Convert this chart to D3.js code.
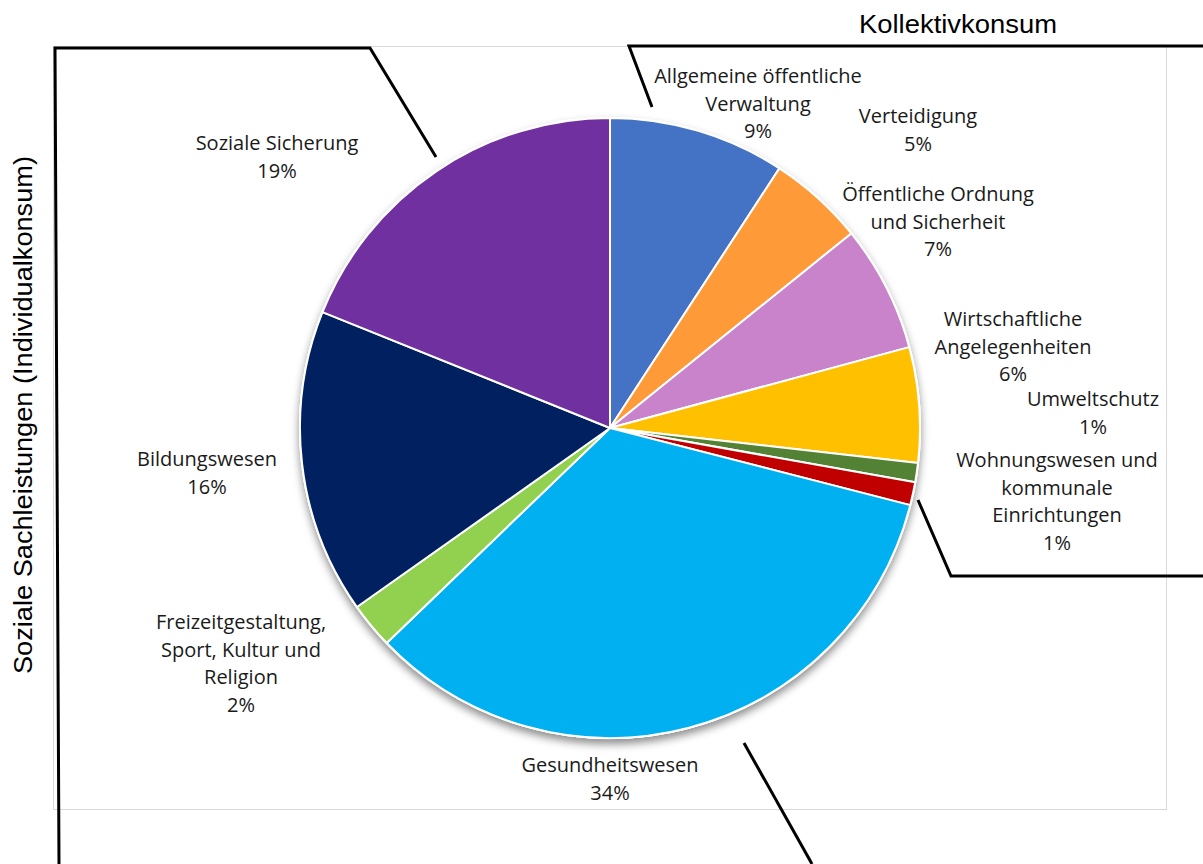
<!DOCTYPE html>
<html>
<head>
<meta charset="utf-8">
<script src="https://cdn.jsdelivr.net/npm/d3@7"></script>
<style>
  body { margin: 0; background: #fff; }
  svg { display: block; }
  .lbl { font-family: "Open Sans", Lato, sans-serif; font-size: 20px; fill: #1a1a1a; }
  .ttl { font-family: "Liberation Sans", Arial, sans-serif; font-size: 25px; fill: #000; }
</style>
</head>
<body>
<div id="main"></div>
<script>
// slice names (one entry per line of the label)
const categories = [
  ['Allgemeine öffentliche', 'Verwaltung'],
  ['Verteidigung'],
  ['Öffentliche Ordnung', 'und Sicherheit'],
  ['Wirtschaftliche', 'Angelegenheiten'],
  ['Umweltschutz'],
  ['Wohnungswesen und', 'kommunale', 'Einrichtungen'],
  ['Gesundheitswesen'],
  ['Freizeitgestaltung,', 'Sport, Kultur und', 'Religion'],
  ['Bildungswesen'],
  ['Soziale Sicherung']
];
// share of spending, percent
const shares = [9.2, 5.0, 6.6, 6.0, 1.0, 1.2, 33.8, 2.4, 15.9, 18.9];
const colors = ['#4472C4', '#FF9A38', '#C983CB', '#FFC000', '#548235',
  '#C00000', '#00B0F0', '#92D050', '#002060', '#7030A0'];

// label anchor (centre x, first line y) for each slice
const labelPos = [
  [758, 76], [918, 116], [938, 194], [1013, 319], [1093, 399],
  [1057, 460], [610, 765], [241, 622], [207, 459], [277, 143]
];

function main() {
  const W = 1203, H = 864;
  const cx = 610, cy = 428, radius = 310;
  const lineH = 27.7;

  const svg = d3.select('#main').append('svg')
    .attr('width', W).attr('height', H);

  const defs = svg.append('defs');
  const shadow = defs.append('filter').attr('id', 'shadow')
    .attr('x', '-10%').attr('y', '-10%').attr('width', '120%').attr('height', '125%');
  shadow.append('feDropShadow')
    .attr('dx', 0).attr('dy', 5).attr('stdDeviation', 4)
    .attr('flood-color', '#000').attr('flood-opacity', 0.45);

  // plot-area frame
  svg.append('rect')
    .attr('x', 53.5).attr('y', 46.5).attr('width', 1113).attr('height', 763)
    .attr('fill', 'none').attr('stroke', '#d9d9d9').attr('stroke-width', 1);

  const pie = d3.pie().sort(null).value(d => d);
  const arc = d3.arc().innerRadius(0).outerRadius(radius);
  const arcs = pie(shares);

  const g = svg.append('g').attr('transform', `translate(${cx},${cy})`);
  // white disc carrying the shadow
  g.append('circle').attr('r', radius + 1).attr('fill', '#fff').attr('filter', 'url(#shadow)');
  g.selectAll('path.slice')
    .data(arcs)
    .enter()
    .append('path')
    .attr('class', 'slice')
    .attr('d', arc)
    .attr('fill', (d, i) => colors[i])
    .attr('stroke', '#fff')
    .attr('stroke-width', 2)
    .attr('stroke-linejoin', 'round');

  // data labels
  const labels = svg.append('g');
  categories.forEach((lines, i) => {
    const t = labels.append('text')
      .attr('class', 'lbl')
      .attr('text-anchor', 'middle')
      .attr('x', labelPos[i][0])
      .attr('y', labelPos[i][1] + 7);
    lines.concat([`${Math.round(shares[i])}%`]).forEach((s, k) => {
      t.append('tspan')
        .attr('x', labelPos[i][0])
        .attr('dy', k === 0 ? 0 : lineH)
        .text(s);
    });
  });

  // brackets grouping the categories
  const line = d3.line();
  const brackets = [
    [[59, 864], [55, 48], [370, 48], [436, 157]],
    [[652, 107], [629, 46], [1203, 46]],
    [[918, 500], [951, 576], [1203, 576]],
    [[744, 743], [812, 864]]
  ];
  svg.append('g').selectAll('path')
    .data(brackets)
    .enter()
    .append('path')
    .attr('d', d => line(d))
    .attr('fill', 'none')
    .attr('stroke', '#000')
    .attr('stroke-width', 3)
    .attr('stroke-linejoin', 'miter');

  // group titles
  svg.append('text')
    .attr('class', 'ttl')
    .attr('text-anchor', 'middle')
    .attr('x', 958).attr('y', 33)
    .attr('textLength', 198)
    .attr('lengthAdjust', 'spacingAndGlyphs')
    .text('Kollektivkonsum');
  svg.append('text')
    .attr('class', 'ttl')
    .attr('text-anchor', 'middle')
    .attr('transform', 'translate(32,415) rotate(-90)')
    .attr('textLength', 518)
    .attr('lengthAdjust', 'spacingAndGlyphs')
    .text('Soziale Sachleistungen (Individualkonsum)');
}
document.addEventListener('DOMContentLoaded', main);
</script>
</body>
</html>
